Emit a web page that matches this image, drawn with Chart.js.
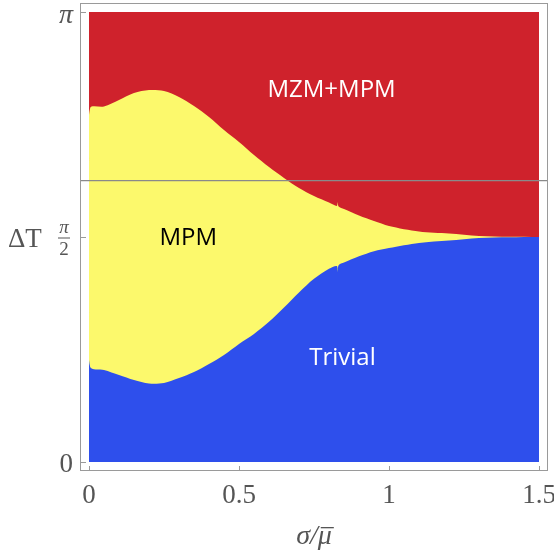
<!DOCTYPE html>
<html>
<head>
<meta charset="utf-8">
<script src="https://cdn.jsdelivr.net/npm/chart.js@4/dist/chart.umd.min.js"></script>
<style>
  html, body { margin: 0; padding: 0; background: #ffffff; }
  #wrap { width: 554px; height: 555px; }
</style>
</head>
<body>
<div id="wrap"><canvas id="phase" width="554" height="555"></canvas></div>
<script>
// sigma / mean(mu) sample points along the horizontal axis
const sigmaRatio = [0, 0.004, 0.05, 0.1, 0.15, 0.2, 0.25, 0.3, 0.35, 0.4, 0.45, 0.5, 0.55, 0.6, 0.65, 0.7,
  0.75, 0.8, 0.826, 0.829, 0.832, 0.85, 0.9, 0.95, 1.0, 1.1, 1.2, 1.3, 1.4, 1.5];

// boundary between the MZM+MPM phase and the MPM phase (Delta T)
const upperBoundary = [2.087, 2.471, 2.482, 2.527, 2.576, 2.597, 2.590, 2.548, 2.485, 2.409, 2.318, 2.234,
  2.143, 2.059, 1.983, 1.913, 1.857, 1.812, 1.788, 1.813, 1.784, 1.766, 1.721, 1.682, 1.648, 1.609, 1.595,
  1.578, 1.572, 1.571];

// boundary between the MPM phase and the trivial phase (Delta T)
const lowerBoundary = [1.061, 0.663, 0.642, 0.607, 0.572, 0.548, 0.552, 0.586, 0.628, 0.684, 0.747, 0.824,
  0.894, 0.979, 1.079, 1.184, 1.279, 1.349, 1.368, 1.329, 1.374, 1.392, 1.436, 1.472, 1.494, 1.529, 1.546,
  1.564, 1.569, 1.571];

// top edge of the diagram (Delta T = pi)
const topSigma = [0, 1.5];
const topDeltaT = [Math.PI, Math.PI];

// horizontal reference line
const referenceDeltaT = 1.965;

// axis ticks
const xTickValues = [0, 0.5, 1, 1.5];
const xTickLabels = ['0', '0.5', '1', '1.5'];
const yTickValues = [0, Math.PI / 2, Math.PI];

// phase names
const phaseNames = ['MZM+MPM', 'MPM', 'Trivial'];

const X_MIN = -0.03, X_MAX = 1.53;
const Y_MIN = -0.02 * Math.PI, Y_MAX = 1.02 * Math.PI;

const RED = '#cf222c', YELLOW = '#fcf96c', BLUE = '#2e4fec';
const AXIS_GRAY = '#9a9a9a', TEXT_GRAY = '#555555';

const pts = (xs, ys) => xs.map((x, i) => ({ x: x, y: ys[i] }));

const framePlugin = {
  id: 'mathFrame',
  afterDraw(chart) {
    const { ctx, chartArea: a, scales } = chart;
    const xs = scales.x, ys = scales.y;
    ctx.save();
    // frame
    ctx.strokeStyle = AXIS_GRAY;
    ctx.lineWidth = 1;
    ctx.strokeRect(a.left + 0.5, a.top + 0.5, a.right - a.left - 1, a.bottom - a.top - 1);
    // inward ticks
    ctx.beginPath();
    xTickValues.forEach(v => {
      const px = Math.round(xs.getPixelForValue(v)) + 0.5;
      ctx.moveTo(px, a.bottom);
      ctx.lineTo(px, a.bottom - 5);
    });
    yTickValues.forEach(v => {
      const py = Math.round(ys.getPixelForValue(v)) + 0.5;
      ctx.moveTo(a.left, py);
      ctx.lineTo(a.left + 6, py);
    });
    ctx.stroke();

    // x tick labels
    ctx.fillStyle = TEXT_GRAY;
    ctx.font = '27px "Liberation Serif", serif';
    ctx.textAlign = 'center';
    ctx.textBaseline = 'alphabetic';
    xTickValues.forEach((v, i) => {
      ctx.fillText(xTickLabels[i], xs.getPixelForValue(v), a.bottom + 32);
    });

    // y tick labels
    const y0 = ys.getPixelForValue(0);
    const yHalf = ys.getPixelForValue(Math.PI / 2);
    const yPi = ys.getPixelForValue(Math.PI);
    ctx.textAlign = 'right';
    ctx.fillText('0', a.left - 7, y0 + 10);
    ctx.textAlign = 'center';
    ctx.font = 'italic 28px "Liberation Serif", serif';
    ctx.fillText('π', a.left - 14, yPi + 11);
    ctx.font = 'italic 19px "Liberation Serif", serif';
    ctx.fillText('π', a.left - 16, yHalf - 4);
    ctx.font = '19px "Liberation Serif", serif';
    ctx.fillText('2', a.left - 16, yHalf + 18);
    ctx.fillRect(a.left - 22, yHalf + 0.5, 12, 1);

    // axis titles
    ctx.textAlign = 'left';
    ctx.font = '27px "Liberation Serif", serif';
    ctx.fillText('ΔT', 8, yHalf + 10);
    ctx.font = 'italic 28px "Liberation Serif", serif';
    const title = 'σ/μ';
    const tw = ctx.measureText(title).width;
    const tx = 314 - tw / 2;
    const base = a.bottom + 73;
    ctx.fillText(title, tx, base);
    const muW = ctx.measureText('μ').width;
    const muX = tx + ctx.measureText('σ/').width;
    ctx.fillRect(muX + 3, base - 17, muW - 1, 1.3);

    // phase labels
    ctx.textAlign = 'center';
    ctx.textBaseline = 'middle';
    ctx.font = '24px "Open Sans", sans-serif';
    const lab = [[0.8085, 2.594, '#ffffff'], [0.331, 1.564, '#000000'], [0.845, 0.726, '#ffffff']];
    lab.forEach((l, i) => {
      ctx.fillStyle = l[2];
      ctx.fillText(phaseNames[i], xs.getPixelForValue(l[0]), ys.getPixelForValue(l[1]));
    });
    ctx.restore();
  }
};

new Chart(document.getElementById('phase'), {
  type: 'line',
  data: {
    datasets: [
      {
        label: 'reference',
        data: [{ x: X_MIN, y: referenceDeltaT }, { x: X_MAX, y: referenceDeltaT }],
        borderColor: '#8a8a8a', borderWidth: 1.2, pointRadius: 0, fill: false
      },
      {
        label: 'Trivial',
        data: pts(sigmaRatio, lowerBoundary),
        borderWidth: 0, pointRadius: 0, backgroundColor: BLUE, fill: 'origin',
        tension: 0.3
      },
      {
        label: 'MPM',
        data: pts(sigmaRatio, upperBoundary),
        borderWidth: 0, pointRadius: 0, backgroundColor: YELLOW, fill: 'origin',
        tension: 0.3
      },
      {
        label: 'MZM+MPM',
        data: pts(topSigma, topDeltaT),
        borderWidth: 0, pointRadius: 0, backgroundColor: RED, fill: 'origin'
      }
    ]
  },
  options: {
    responsive: false,
    animation: false,
    devicePixelRatio: 1,
    layout: { padding: { left: 0, right: 6, top: 3, bottom: 0 } },
    plugins: { legend: { display: false }, tooltip: { enabled: false } },
    scales: {
      x: {
        type: 'linear', min: X_MIN, max: X_MAX,
        grid: { display: false }, border: { display: false },
        ticks: { display: false },
        afterBuildTicks: s => { s.ticks = xTickValues.map(v => ({ value: v })); },
        afterFit: s => { s.height = 84; }
      },
      y: {
        type: 'linear', min: Y_MIN, max: Y_MAX,
        grid: { display: false }, border: { display: false },
        ticks: { display: false },
        afterBuildTicks: s => { s.ticks = yTickValues.map(v => ({ value: v })); },
        afterFit: s => { s.width = 80; }
      }
    }
  },
  plugins: [framePlugin]
});
</script>
</body>
</html>
